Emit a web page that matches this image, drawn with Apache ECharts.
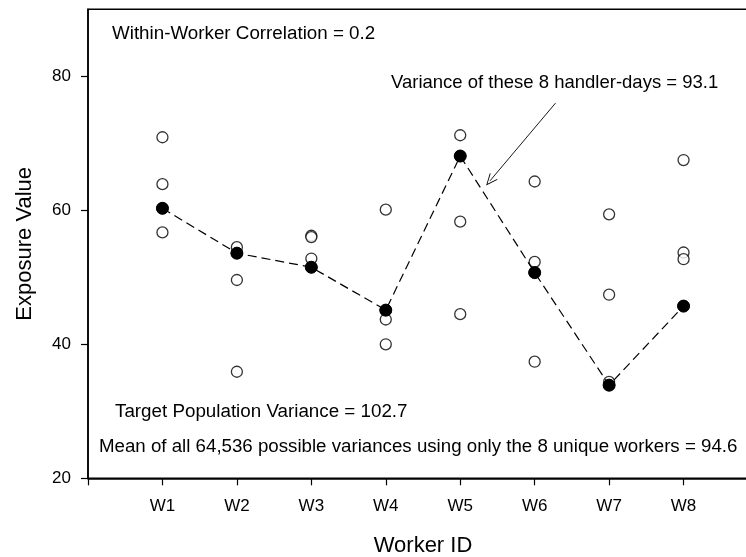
<!DOCTYPE html>
<html>
<head>
<meta charset="utf-8">
<script src="https://cdn.jsdelivr.net/npm/echarts@6/dist/echarts.min.js"></script>
<style>
html,body{margin:0;padding:0;background:#fff;}
#chart{width:746px;height:557px;}
</style>
</head>
<body>
<div id="chart"></div>
<script>
// ---- data ----
const workers = ['W1','W2','W3','W4','W5','W6','W7','W8'];
// the three non-selected handler-days for each worker (open circles)
const dayA = [70.9, 54.5, 56.2, 60.1, 71.2, 64.3, 59.4, 67.5];
const dayB = [63.9, 49.6, 56.0, 43.7, 58.3, 52.3, 47.4, 53.7];
const dayC = [56.7, 35.9, 52.8, 40.0, 44.5, 37.4, 34.4, 52.7];
// the selected handler-day for each worker (filled circles, joined by dashed line)
const selected = [60.3, 53.6, 51.5, 45.1, 68.1, 50.7, 33.9, 45.7];
const yTicks = [20, 40, 60, 80];
// annotation arrow, in data units (x position, exposure value)
const arrowFrom = [6.28, 76.0];
const arrowTo = [5.40, 64.4];

const FONT = '"Liberation Sans", Arial, Helvetica, sans-serif';

const openPts = [];
[dayA, dayB, dayC, selected].forEach(arr => arr.forEach((v, i) => openPts.push([i + 1, v])));
const selPts = selected.map((v, i) => [i + 1, v]);

const chart = echarts.init(document.getElementById('chart'), null, {renderer: 'canvas'});
chart.setOption({
  animation: false,
  backgroundColor: '#ffffff',
  grid: {
    left: 88, top: 9.3, height: 469, width: 670,
    outerBoundsMode: 'none', containLabel: false,
    show: true, borderColor: '#000', borderWidth: 1.5, backgroundColor: 'transparent'
  },
  xAxis: {
    type: 'value', min: 0, max: 9, interval: 1,
    name: 'Worker ID', nameLocation: 'middle', nameGap: 57,
    nameTextStyle: {fontFamily: FONT, fontSize: 22, color: '#000'},
    axisLine: {show: true, lineStyle: {color: '#000', width: 1.5}},
    axisTick: {show: true, inside: false, length: 7, lineStyle: {color: '#000', width: 1.2}},
    axisLabel: {
      fontFamily: FONT, fontSize: 17, color: '#000', margin: 20,
      formatter: v => (v >= 1 && v <= 8 && Number.isInteger(v)) ? workers[v - 1] : ''
    },
    splitLine: {show: false}
  },
  yAxis: {
    type: 'value', min: 20, max: 90, interval: 20,
    name: 'Exposure Value', nameLocation: 'middle', nameGap: 52, nameRotate: 90,
    nameTextStyle: {fontFamily: FONT, fontSize: 22, color: '#000'},
    axisLine: {show: true, lineStyle: {color: '#000', width: 1.5}},
    axisTick: {show: true, inside: false, length: 7, lineStyle: {color: '#000', width: 1.2}, customValues: yTicks},
    axisLabel: {fontFamily: FONT, fontSize: 17, color: '#000', margin: 17, customValues: yTicks},
    splitLine: {show: false}
  },
  series: [
    {
      type: 'scatter', data: openPts, symbol: 'circle', symbolSize: 11,
      itemStyle: {color: '#fff', borderColor: '#000', borderWidth: 1.3},
      z: 2
    },
    {
      type: 'line', data: selPts, symbol: 'circle', symbolSize: 12, showSymbol: true,
      itemStyle: {color: '#000', borderColor: '#000', borderWidth: 1},
      lineStyle: {color: '#000', width: 1.2, type: [9, 5]},
      z: 3,
      markLine: {
        silent: true,
        symbol: ['none', 'path://M0,0 L6,12 L5,12.4 L0,2.2 L-5,12.4 L-6,12 Z'],
        symbolSize: [10, 12],
        lineStyle: {color: '#000', width: 0.9, type: 'solid'},
        label: {show: false},
        data: [[{coord: arrowFrom}, {coord: arrowTo}]]
      }
    }
  ],
  graphic: [
    {type: 'text', left: 112, top: 24, style: {text: 'Within-Worker Correlation = 0.2', font: '18.8px ' + FONT, fill: '#000'}},
    {type: 'text', left: 391, top: 73, style: {text: 'Variance of these 8 handler-days = 93.1', font: '18.5px ' + FONT, fill: '#000'}},
    {type: 'text', left: 115, top: 402, style: {text: 'Target Population Variance = 102.7', font: '18.8px ' + FONT, fill: '#000'}},
    {type: 'text', left: 99, top: 437, style: {text: 'Mean of all 64,536 possible variances using only the 8 unique workers = 94.6', font: '18.7px ' + FONT, fill: '#000'}}
  ]
});
</script>
</body>
</html>
